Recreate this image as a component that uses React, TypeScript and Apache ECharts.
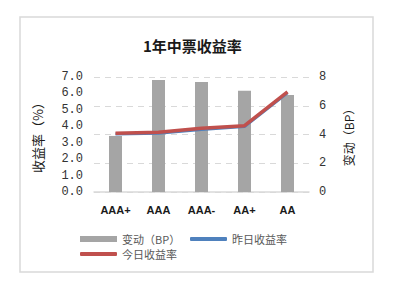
import React, { useEffect, useRef } from "react";
import * as echarts from "echarts";

const categories = ["AAA+", "AAA", "AAA-", "AA+", "AA"];
const changeBP = [3.9, 7.8, 7.65, 7.05, 6.75];
const yesterdayYield = [3.53, 3.57, 3.81, 3.98, 6.04];
const todayYield = [3.57, 3.63, 3.88, 4.04, 6.1];
const leftTicks = { min: 0, max: 7, interval: 1 };
const rightTicks = { min: 0, max: 8, interval: 2 };

const CN = "'Noto Sans CJK SC', sans-serif";
const MONO = "'Liberation Mono', monospace";

export default function App() {
  const ref = useRef<HTMLDivElement>(null);
  useEffect(() => {
    document.body.style.margin = "0";
    const chart = echarts.init(ref.current!, null, { renderer: "svg" });
    const legendText = { fontFamily: CN, fontSize: 11, color: "#595959", lineHeight: 12 };
    chart.setOption({
      animation: false,
      backgroundColor: "#ffffff",
      title: {
        text: "1年中票收益率",
        left: 138,
        top: 33,
        textStyle: { fontFamily: CN, fontSize: 15, fontWeight: "bold", color: "#1a1a1a" },
      },
      graphic: [
        {
          type: "rect",
          shape: { x: 20, y: 17, width: 353, height: 255 },
          style: { fill: "none", stroke: "#d9d9d9", lineWidth: 1.5 },
          silent: true,
        },
      ],
      grid: { left: 94, right: 92, top: 77, bottom: 94 },
      legend: [
        {
          data: ["变动（BP）"],
          left: 80,
          top: 233,
          padding: 0,
          itemWidth: 37,
          itemHeight: 6,
          icon: "rect",
          textStyle: legendText,
        },
        {
          data: ["昨日收益率"],
          left: 190,
          top: 233,
          padding: 0,
          itemWidth: 37,
          itemHeight: 4,
          icon: "roundRect",
          textStyle: legendText,
        },
        {
          data: ["今日收益率"],
          left: 80,
          top: 248,
          padding: 0,
          itemWidth: 37,
          itemHeight: 4,
          icon: "roundRect",
          textStyle: legendText,
        },
      ],
      xAxis: {
        type: "category",
        data: categories,
        axisLine: { lineStyle: { color: "#d9d9d9", width: 1.5 } },
        axisTick: { show: false },
        axisLabel: {
          margin: 12,
          fontFamily: "'Liberation Sans', sans-serif",
          fontWeight: "bold",
          fontSize: 11,
          color: "#1a1a1a",
        },
      },
      yAxis: [
        {
          type: "value",
          ...leftTicks,
          position: "left",
          name: "收益率（%）",
          nameLocation: "middle",
          nameGap: 50,
          nameTextStyle: { fontFamily: CN, fontSize: 13, color: "#1a1a1a" },
          axisLine: { show: false },
          axisTick: { show: false },
          splitLine: { show: false },
          axisLabel: {
            margin: 11,
            formatter: (v: number) => v.toFixed(1),
            fontFamily: MONO,
            fontSize: 12,
            color: "#333333",
          },
        },
        {
          type: "value",
          ...rightTicks,
          position: "right",
          name: "变动（BP）",
          nameLocation: "middle",
          nameRotate: 90,
          nameGap: 33,
          nameTextStyle: { fontFamily: CN, fontSize: 12, color: "#1a1a1a" },
          axisLine: { show: false },
          axisTick: { show: false },
          splitLine: { lineStyle: { color: "#d9d9d9", type: [6, 5], width: 1 } },
          axisLabel: {
            margin: 10,
            fontFamily: MONO,
            fontSize: 12,
            color: "#333333",
          },
        },
      ],
      series: [
        {
          name: "变动（BP）",
          type: "bar",
          yAxisIndex: 1,
          data: changeBP,
          barWidth: 13,
          itemStyle: { color: "#a5a5a5" },
        },
        {
          name: "昨日收益率",
          type: "line",
          yAxisIndex: 0,
          data: yesterdayYield,
          showSymbol: false,
          symbol: "none",
          lineStyle: { color: "#4f81bd", width: 3 },
          itemStyle: { color: "#4f81bd" },
        },
        {
          name: "今日收益率",
          type: "line",
          yAxisIndex: 0,
          data: todayYield,
          showSymbol: false,
          symbol: "none",
          lineStyle: { color: "#c0504d", width: 3.5 },
          itemStyle: { color: "#c0504d" },
        },
      ],
    });
    return () => chart.dispose();
  }, []);
  return <div ref={ref} style={{ width: 401, height: 286 }} />;
}
